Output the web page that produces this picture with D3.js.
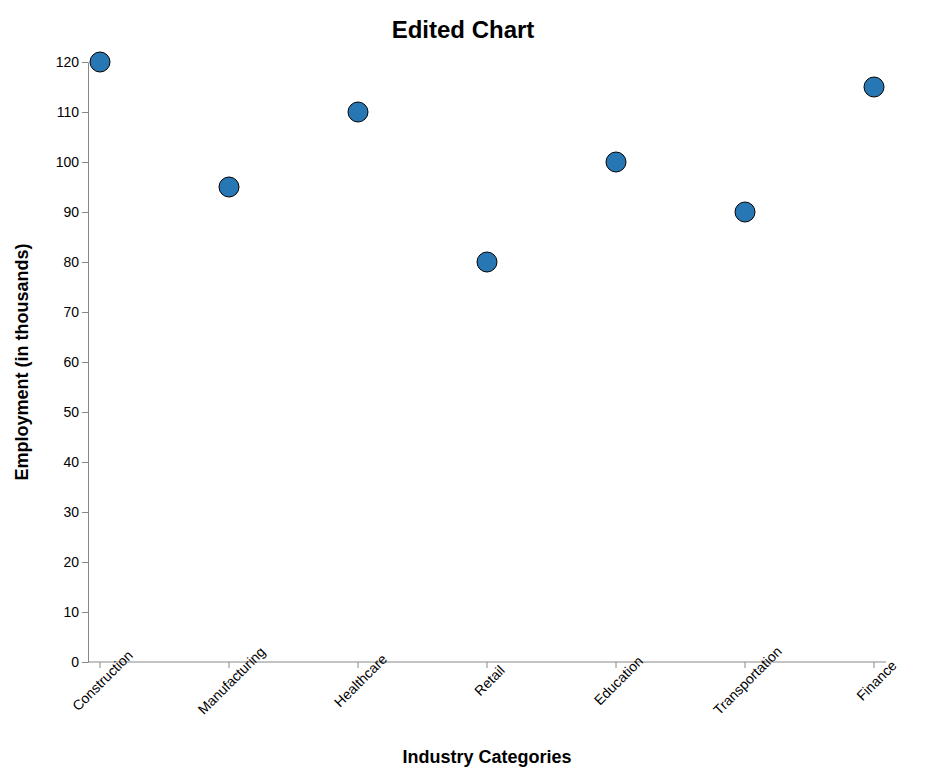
<!DOCTYPE html>
<html><head><meta charset="utf-8">
<script src="https://cdn.jsdelivr.net/npm/d3@7"></script>
<style>body{margin:0;background:#fff;font-family:"Liberation Sans",Arial,sans-serif}</style>
</head><body><svg id="c" width="926" height="776"></svg>
<script>
const categories = ['Construction','Manufacturing','Healthcare','Retail','Education','Transportation','Finance'];
const values = [120, 95, 110, 80, 100, 90, 115];
const yTicks = d3.range(0, 121, 10);

const svg = d3.select('#c');
const plotLeft = 88, plotRight = 886, plotTop = 62, plotBottom = 662;
const x = d3.scalePoint().domain(categories).range([100, 874]);
const y = d3.scaleLinear().domain([0, 120]).range([plotBottom, plotTop]);

svg.append('text').attr('x', 463).attr('y', 38).attr('text-anchor', 'middle')
  .attr('font-size', 24).attr('font-weight', 'bold').text('Edited Chart');

const ya = svg.append('g').attr('transform', `translate(${plotLeft},0)`)
  .call(d3.axisLeft(y).tickValues(yTicks).tickSize(6).tickSizeOuter(0));
ya.select('.domain').attr('stroke', '#888');
ya.selectAll('.tick line').attr('stroke', '#888');
ya.selectAll('text').attr('font-size', 14).attr('font-family', 'Liberation Sans, Arial').attr('fill', '#000');

const xa = svg.append('g').attr('transform', `translate(0,${plotBottom})`);
xa.append('line').attr('x1', plotLeft).attr('x2', plotRight).attr('stroke', '#888');
xa.selectAll('.t').data(categories).enter().append('line')
  .attr('x1', d => x(d)).attr('x2', d => x(d)).attr('y2', 6).attr('stroke', '#888');
xa.selectAll('.lbl').data(categories).enter().append('text')
  .attr('transform', d => `translate(${x(d) + 6},${22}) rotate(-45)`)
  .attr('text-anchor', 'middle').attr('font-size', 14).text(d => d);

svg.append('text').attr('x', 487).attr('y', 763).attr('text-anchor', 'middle')
  .attr('font-size', 18).attr('font-weight', 'bold').text('Industry Categories');
svg.append('text').attr('transform', `translate(28,${(plotTop + plotBottom) / 2}) rotate(-90)`)
  .attr('text-anchor', 'middle').attr('font-size', 18).attr('font-weight', 'bold')
  .text('Employment (in thousands)');

svg.selectAll('circle').data(categories).enter().append('circle')
  .attr('cx', d => x(d)).attr('cy', (d, i) => y(values[i])).attr('r', 10)
  .attr('fill', '#2677b4').attr('stroke', '#000').attr('stroke-width', 1);
</script></body></html>
